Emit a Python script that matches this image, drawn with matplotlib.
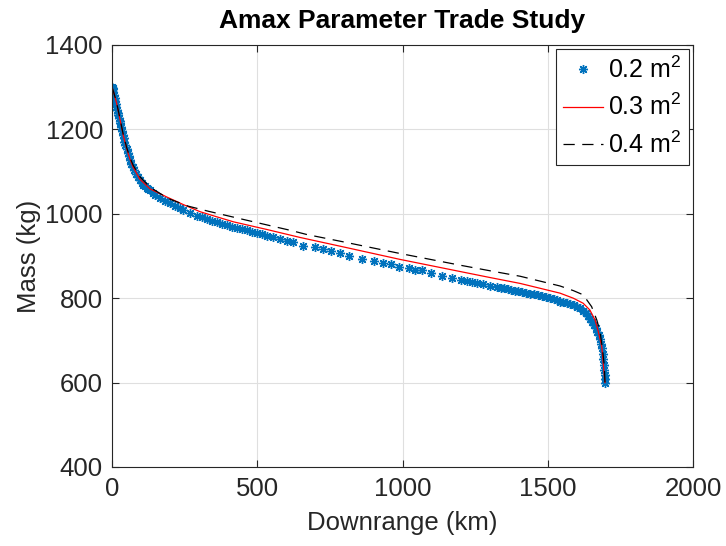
import matplotlib
matplotlib.use('Agg')
import matplotlib.pyplot as plt

# downrange (km) / mass (kg) for each Amax setting
dr_02 = [0, 2, 4, 5, 7, 9, 11, 13, 15, 17, 19, 21, 23, 26, 28, 31, 34, 37, 40, 43,
         46, 50, 54, 58, 62, 67, 72, 77, 83, 89, 96, 102, 108, 114, 119, 125, 131, 140,
         148, 165, 182, 200, 217, 234, 245, 268, 292, 309, 326, 343, 360, 378, 395, 412,
         429, 446, 464, 481, 498, 515, 533, 555, 578, 601, 624, 659, 699, 726, 754, 785,
         816, 861, 902, 933, 961, 988, 1022, 1043, 1067, 1098, 1136, 1170, 1201, 1222,
         1239, 1256, 1277, 1301, 1325, 1338, 1350, 1362, 1374, 1386, 1399, 1412, 1425,
         1439, 1452, 1466, 1480, 1494, 1508, 1520, 1532, 1542, 1554, 1566, 1577, 1589,
         1600, 1611, 1621, 1630, 1638, 1646, 1653, 1659, 1665, 1670, 1675, 1679, 1683,
         1686, 1689, 1691, 1693, 1695, 1696, 1697, 1698]
m_02 = [1300, 1298, 1295, 1288, 1281, 1274, 1267, 1260, 1253, 1246, 1239, 1233, 1227,
        1220, 1214, 1205, 1196, 1187, 1179, 1171, 1163, 1154, 1145, 1137, 1128, 1119,
        1111, 1103, 1095, 1087, 1079, 1073, 1068, 1065, 1062, 1059, 1056, 1050, 1045,
        1037, 1031, 1025, 1018, 1013, 1009, 1001, 995, 992, 987, 984, 980, 976, 973, 969,
        967, 964, 962, 958, 955, 951, 948, 944, 940, 936, 932, 924, 922, 916, 913, 906,
        900, 893, 888, 884, 881, 875, 871, 868, 867, 860, 853, 849, 843, 841, 838, 835,
        833, 829, 827, 825, 823, 821, 820, 818, 817, 814, 813, 811, 809, 807, 805, 802,
        800, 797, 795, 792, 790, 789, 787, 783, 780, 776, 770, 764, 758, 751, 744, 737,
        729, 721, 712, 703, 692, 681, 668, 655, 642, 629, 617, 608, 600]

dr_03 = [0, 5, 16, 28, 39, 51, 62, 73, 96, 131, 188, 245, 303, 360, 418, 532, 647, 800,
         991, 1200, 1301, 1405, 1542, 1588, 1622, 1645, 1663, 1674, 1686, 1691, 1697]
m_03 = [1300, 1290, 1262, 1222, 1185, 1153, 1129, 1110, 1082, 1059, 1040, 1022, 1005,
        993, 981, 963, 944, 921, 892, 863, 849, 835, 812, 800, 788, 772, 748, 721, 685,
        646, 600]

dr_04 = [0, 5, 16, 28, 39, 51, 62, 73, 96, 131, 194, 263, 332, 400, 481, 550, 619, 670,
         800, 991, 1200, 1301, 1405, 1542, 1588, 1622, 1651, 1669, 1680, 1689, 1695, 1697]
m_04 = [1300, 1290, 1263, 1224, 1187, 1156, 1133, 1115, 1088, 1063, 1036, 1018, 1006,
        995, 982, 971, 960, 951, 933, 906, 878, 865, 852, 829, 818, 808, 780, 748, 721,
        677, 638, 600]

labels = ['0.2 m$^2$', '0.3 m$^2$', '0.4 m$^2$']

plt.rcParams['font.family'] = ['Liberation Sans', 'DejaVu Sans']
plt.rcParams['mathtext.fontset'] = 'custom'
plt.rcParams['mathtext.rm'] = 'Liberation Sans'

dark = '#262626'
fig = plt.figure(figsize=(7.26, 5.46), dpi=100)
ax = fig.add_axes([112 / 726, 1 - 467 / 546, 581 / 726, 422 / 546])

ax.plot(dr_02, m_02, linestyle='none', marker=(8, 2, 0), markersize=6.5,
        markeredgewidth=1.0, color='#0072BD', label=labels[0])
ax.plot(dr_03, m_03, color='red', linewidth=0.9, label=labels[1])
ax.plot(dr_04, m_04, color='black', linewidth=0.9, dashes=(9, 6), label=labels[2])

ax.set_xlim(0, 2000)
ax.set_ylim(400, 1400)
ax.set_xticks([0, 500, 1000, 1500, 2000])
ax.set_yticks([400, 600, 800, 1000, 1200, 1400])
ax.grid(True, color='#dfdfdf', linewidth=0.8)
ax.set_axisbelow(True)
ax.tick_params(direction='in', length=5, width=0.8, colors=dark, labelsize=18.5,
               top=True, right=True)
ax.tick_params(axis='x', pad=7.5)
ax.tick_params(axis='y', pad=6.5)
for s in ax.spines.values():
    s.set_color(dark)
    s.set_linewidth(0.8)

ax.set_xlabel('Downrange (km)', fontsize=18.5, color=dark, labelpad=7)
ax.set_ylabel('Mass (kg)', fontsize=18.5, color=dark, labelpad=3)
ax.set_title('Amax Parameter Trade Study', fontsize=19, fontweight='bold', pad=12)

leg = ax.legend(loc='upper right', fontsize=18, fancybox=False, framealpha=1,
                edgecolor=dark, handlelength=1.6, borderaxespad=0.15,
                labelspacing=0.45, handletextpad=0.2, borderpad=0.3)
leg.get_frame().set_linewidth(0.8)

fig.savefig('out.png', dpi=100)
